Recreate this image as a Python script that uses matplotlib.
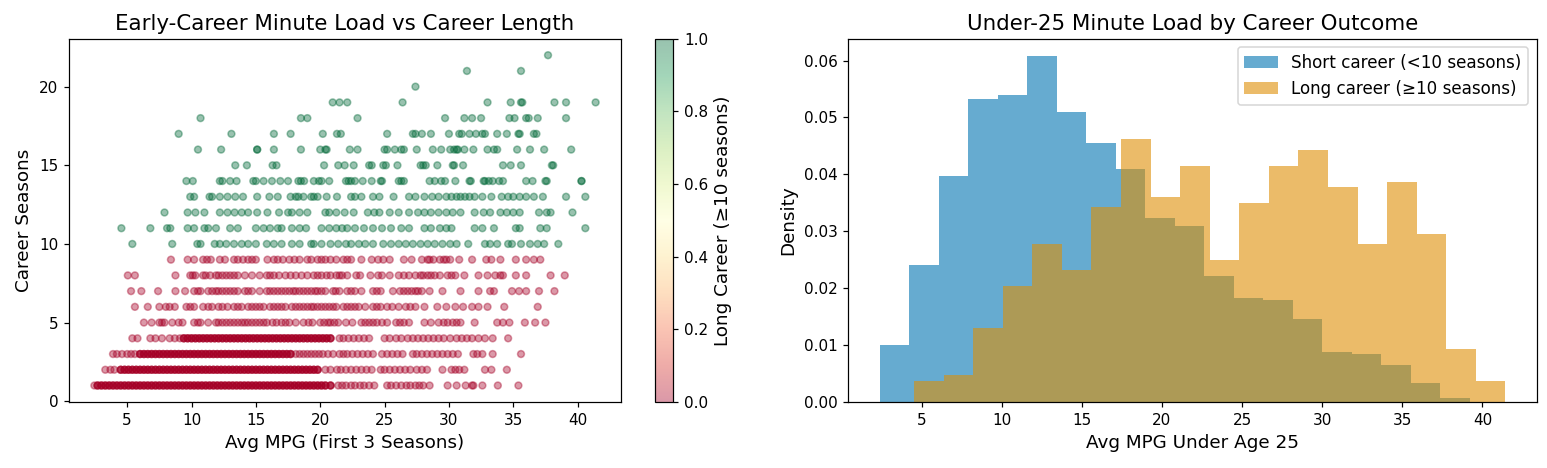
import numpy as np
import matplotlib
matplotlib.use("Agg")
import matplotlib.pyplot as plt

# ---- scatter data: avg MPG (first 3 seasons), grouped by career seasons ----
# rows 1-4 are packed; "core" spots hold several overlapping players
s1_core = [2.7, 3.0, 3.3, 3.6, 3.9, 4.2, 4.5, 4.8, 5.1, 5.4, 5.7, 6.0, 6.3, 6.6, 6.9, 7.2, 7.5, 7.8, 8.1, 8.4,
           8.7, 9.0, 9.3, 9.6, 9.9, 10.2, 10.5, 10.8, 11.1, 11.4, 11.7, 12.0, 12.3, 12.6, 12.9, 13.2, 13.5, 13.8,
           14.1, 14.4, 14.7, 15.0, 15.3, 15.6, 15.9, 16.2, 16.5, 16.8, 17.1, 17.4, 17.7, 18.0, 18.3, 18.6, 18.9,
           19.2, 19.5, 19.8, 20.1, 20.4, 20.8]
s1_tail = [2.45, 21.4, 21.7, 22.0, 22.4, 22.7, 23.1, 23.4, 23.8, 24.2, 25.2, 25.5, 25.9, 26.3, 26.7, 27.0, 27.4,
           27.7, 28.0, 28.5, 29.9, 30.6, 31.3, 31.8, 31.9, 32.6, 33.8, 35.4]
s2_core = [4.5, 4.8, 5.1, 5.4, 5.7, 6.0, 6.3, 6.6, 6.9, 7.2, 7.5, 7.8, 8.1, 8.4, 8.7, 9.0, 9.3, 9.6, 9.9, 10.2,
           10.5, 10.8, 11.1, 11.4, 11.7, 12.0, 12.3, 12.6, 12.9, 13.2, 13.5, 13.8, 14.1, 14.4, 14.7, 15.0, 15.3,
           15.6, 15.9, 16.2, 16.5, 16.8, 17.1, 17.4, 17.7, 18.0, 18.3, 18.6, 18.9, 19.2, 19.5, 19.8]
s2_tail = [3.3, 3.7, 4.0, 20.4, 20.8, 21.3, 21.6, 22.0, 22.4, 22.8, 23.2, 23.6, 24.0, 24.7, 25.0, 25.4, 25.8,
           26.2, 26.6, 27.0, 27.5, 27.9, 28.3, 29.5, 30.2, 30.5, 30.8, 31.2, 32.8, 33.3, 34.5]
s3_core = [6.0, 6.3, 6.6, 6.9, 7.2, 7.5, 7.8, 8.1, 8.4, 8.7, 9.0, 9.3, 9.6, 9.9, 10.2, 10.5, 10.8, 11.1, 11.4,
           11.7, 12.0, 12.3, 12.6, 12.9, 13.2, 13.5, 13.8, 14.1, 14.4, 14.7, 15.0, 15.3, 15.6, 15.9, 16.2, 16.5,
           16.8, 17.1, 17.4, 17.7]
s3_tail = [3.9, 4.2, 4.6, 5.0, 5.3, 5.6, 18.1, 18.4, 18.7, 19.0, 19.3, 19.6, 19.9, 20.2, 20.6, 21.0, 21.5, 21.8,
           22.1, 22.5, 22.9, 23.3, 23.7, 24.1, 24.8, 25.2, 25.6, 26.0, 26.4, 27.2, 27.5, 27.9, 28.3, 28.7, 29.1,
           29.5, 29.9, 30.3, 30.7, 31.9, 32.2, 32.6, 33.4, 35.6]
s4_core = [9.4, 9.7, 10.0, 10.3, 10.6, 10.9, 11.2, 11.5, 11.8, 12.1, 12.4, 12.7, 13.0, 13.3, 13.6, 13.9, 14.2,
           14.5, 14.8, 15.1, 15.4, 15.7, 16.0, 16.3, 16.6, 16.9, 17.2, 17.5, 17.8, 18.1, 18.4, 18.7, 19.0, 19.3,
           19.6, 19.9, 20.2, 20.5, 20.8]
s4_tail = [5.4, 5.8, 6.8, 7.2, 7.7, 8.3, 8.7, 9.1, 21.5, 21.8, 22.2, 22.6, 23.0, 23.4, 23.8, 25.0, 25.4, 25.9,
           26.3, 26.8, 27.2, 27.6, 28.0, 28.4, 28.8, 29.2, 29.6, 30.1, 30.6, 31.0, 31.4, 31.8, 32.3, 32.8, 33.4, 34.6]
core_overlap = 3

s5 = [6.3, 6.9, 7.5, 7.9, 8.5, 9.3, 10.2, 10.7, 11.3, 11.9, 12.4, 13.0, 13.6, 14.15, 14.7, 15.3, 15.85, 16.6,
      17.0, 17.6, 18.1, 18.7, 19.4, 20.3, 20.8, 21.4, 22.0, 22.5, 23.2, 23.8, 24.4, 24.8, 25.2, 25.9, 26.5, 26.9,
      28.1, 28.6, 29.2, 29.6, 30.3, 30.9, 32.0, 33.75, 34.2, 34.7, 35.9, 36.7, 37.5,
      7.7, 9.0, 10.5, 12.1, 12.7, 13.3, 13.9, 14.4, 15.0, 15.6, 16.3, 17.3, 19.1, 20.0, 20.6, 21.1, 23.5, 24.1,
      26.2, 29.9, 30.6]
s6 = [5.6, 6.6, 7.5, 8.0, 8.7, 9.6, 10.2, 10.9, 11.6, 12.4, 13.3, 13.9, 14.4, 15.0, 15.6, 16.1, 16.7, 17.3, 17.8,
      18.4, 19.0, 19.5, 20.1, 20.7, 21.25, 21.8, 22.4, 23.0, 23.5, 24.1, 24.7, 25.2, 25.6, 26.65, 27.4, 28.1,
      29.1, 29.8, 30.5, 31.1, 31.8, 32.3, 33.0, 34.3, 36.9,
      8.3, 9.9, 11.3, 12.1, 12.8, 13.6, 14.7, 15.3, 16.4, 17.0, 18.1, 18.7, 19.3, 19.8, 20.4, 21.0, 22.1, 22.7,
      24.4, 26.1, 27.0]
s7 = [5.3, 6.1, 7.4, 8.75, 9.5, 10.2, 10.7, 11.3, 11.9, 12.4, 13.0, 13.6, 14.15, 14.7, 15.3, 15.85, 16.4, 17.0,
      17.6, 18.1, 18.7, 19.3, 19.8, 20.4, 21.0, 21.5, 22.1, 22.7, 23.2, 24.1, 24.7, 25.65, 26.2, 26.8, 27.4,
      27.9, 28.5, 29.5, 30.9, 32.3, 33.2, 33.5, 34.9, 35.45, 36.0, 37.0, 38.2,
      10.5, 11.6, 12.1, 12.7, 13.3, 14.4, 16.1, 16.7, 17.3, 17.9, 18.4, 19.0, 19.6, 20.1, 21.2, 22.4, 24.4,
      26.5, 27.1, 27.6]
s8 = [5.05, 5.6, 8.75, 9.9, 10.3, 10.9, 11.45, 11.9, 12.4, 13.0, 13.6, 14.15, 14.7, 15.3, 15.85, 16.4, 17.3,
      17.7, 18.1, 18.55, 19.0, 19.5, 20.1, 20.5, 21.25, 21.7, 22.1, 22.8, 23.1, 23.9, 24.8, 25.4, 26.1, 26.5,
      26.9, 27.4, 27.8, 28.35, 28.9, 29.3, 29.9, 30.5, 31.2, 32.3, 33.0, 33.6, 34.0, 34.2, 35.2, 36.0, 37.9, 39.0,
      10.1, 11.1, 12.1, 12.7, 13.3, 16.1, 16.8, 19.8, 20.8, 21.5, 24.5, 28.0, 28.6, 30.2]
s9 = [8.4, 9.7, 10.2, 10.9, 11.5, 12.2, 12.6, 13.6, 14.0, 14.4, 15.0, 15.9, 16.7, 17.1, 17.6, 18.0, 18.4, 19.0,
      19.8, 20.4, 20.8, 21.25, 21.8, 22.4, 23.2, 24.0, 24.9, 25.4, 26.5, 27.1, 27.9, 28.35, 28.8, 29.3, 29.8,
      30.1, 30.8, 31.8, 32.9, 33.3, 34.0, 35.2, 36.0, 36.6, 37.1,
      11.2, 13.3, 14.7, 16.4, 19.3, 20.1, 22.1, 24.5, 28.5, 29.6]
s10 = [5.4, 8.5, 10.45, 10.7, 11.8, 12.2, 12.7, 13.3, 13.9, 14.4, 15.0, 15.85, 16.4, 17.0, 17.8, 18.4, 19.3,
       19.5, 20.1, 20.8, 21.4, 22.0, 22.4, 23.0, 23.5, 24.1, 24.9, 25.5, 26.1, 26.65, 27.2, 27.8, 28.35, 28.9,
       29.5, 30.1, 30.6, 31.5, 32.8, 33.2, 33.75, 34.6, 34.9, 35.6, 36.3, 36.9, 37.4, 38.5]
s11 = [4.55, 6.8, 8.1, 8.35, 9.7, 10.2, 11.0, 11.3, 11.9, 13.0, 13.6, 15.0, 15.6, 16.1, 16.7, 17.0, 17.8, 18.4,
       18.9, 20.1, 20.7, 21.25, 21.7, 22.1, 22.7, 23.4, 24.1, 24.8, 25.5, 26.3, 26.9, 28.1, 28.6, 29.3, 29.8,
       30.2, 32.0, 32.6, 33.5, 35.2, 35.5, 37.1, 37.6, 40.6]
s12 = [7.9, 9.7, 10.3, 11.0, 12.2, 12.8, 13.35, 13.9, 14.4, 15.1, 15.9, 16.8, 17.5, 17.8, 18.4, 19.0, 20.4, 20.7,
       21.25, 21.9, 22.6, 23.7, 24.2, 24.6, 25.4, 26.1, 26.9, 27.6, 28.1, 28.6, 29.2, 29.8, 30.3, 30.9, 32.0,
       32.7, 33.2, 34.0, 34.5, 35.0, 35.5, 37.0, 37.6, 37.9, 39.6]
s13 = [9.9, 10.2, 11.4, 11.6, 12.2, 12.8, 13.4, 14.0, 15.1, 16.05, 16.7, 17.7, 18.1, 18.3, 18.7, 19.3, 19.5, 19.8,
       20.5, 21.3, 22.4, 22.7, 23.2, 24.1, 24.6, 25.7, 26.9, 27.4, 28.1, 28.7, 29.2, 29.8, 30.2, 30.6, 30.9,
       31.25, 31.6, 32.0, 32.6, 33.3, 34.1, 34.6, 35.0, 35.5, 36.0, 36.6, 37.3, 39.1, 40.6]
s14 = [9.6, 10.1, 12.2, 12.4, 13.0, 13.5, 14.8, 15.0, 15.6, 16.25, 16.9, 17.5, 18.3, 18.5, 18.75, 19.5, 19.9,
       20.1, 20.7, 22.0, 22.2, 22.4, 22.7, 23.3, 24.0, 24.7, 24.8, 26.1, 26.3, 26.5, 28.5, 28.9, 29.4, 29.7,
       30.5, 31.6, 31.7, 32.7, 32.8, 33.1, 33.4, 33.9, 34.2, 36.0, 36.5, 37.5, 37.6, 40.3, 40.3]
s15 = [13.4, 14.3, 16.3, 16.6, 20.3, 21.4, 21.9, 22.6, 23.8, 24.0, 24.9, 25.1, 26.0, 27.8, 28.0, 28.2, 29.1,
       30.3, 30.4, 31.1, 34.2, 34.8, 35.6, 38.0, 38.1]
s16 = [10.5, 12.3, 15.1, 15.1, 16.4, 18.5, 20.0, 20.4, 20.5, 22.3, 22.9, 25.0, 25.2, 25.8, 26.3, 26.5, 27.5,
       28.75, 29.4, 30.1, 30.4, 30.6, 30.7, 31.2, 31.9, 33.0, 33.5, 33.75, 35.3, 36.3, 37.4, 39.5]
s17 = [9.0, 13.1, 16.4, 17.7, 20.2, 21.3, 21.6, 25.2, 27.2, 27.4, 27.9, 28.6, 30.0, 30.8, 31.0, 31.6, 32.1, 32.6,
       32.8, 33.75, 34.5, 35.4, 35.5, 36.6, 36.8]
s18 = [10.7, 18.5, 19.0, 22.9, 29.7, 31.2, 31.8, 32.5, 34.7, 35.1, 36.0, 36.2, 36.9, 39.1]
s19 = [20.97, 21.5, 22.1, 26.4, 33.0, 34.8, 35.6, 35.7, 38.2, 39.1, 41.4]
s20 = [27.4]
s21 = [31.4, 35.6]
s22 = [37.7]

# ---- histogram data: density per bin, 20 bins each ----
short_range = (2.38, 39.2)
short_density = [0.0100, 0.0240, 0.0397, 0.0532, 0.0539, 0.0608, 0.0510, 0.0455, 0.0410, 0.0324,
                 0.0310, 0.0221, 0.0182, 0.0179, 0.0145, 0.0088, 0.0084, 0.0065, 0.0034, 0.0007]
long_range = (4.53, 41.43)
long_density = [0.0037, 0.0047, 0.0130, 0.0204, 0.0277, 0.0232, 0.0342, 0.0462, 0.0361, 0.0415,
                0.0249, 0.0350, 0.0415, 0.0443, 0.0378, 0.0277, 0.0387, 0.0296, 0.0093, 0.0037]

# assemble scatter points
rows = {1: s1_tail + s1_core * core_overlap, 2: s2_tail + s2_core * core_overlap,
        3: s3_tail + s3_core * core_overlap, 4: s4_tail + s4_core * core_overlap,
        5: s5, 6: s6, 7: s7, 8: s8, 9: s9, 10: s10, 11: s11, 12: s12, 13: s13, 14: s14,
        15: s15, 16: s16, 17: s17, 18: s18, 19: s19, 20: s20, 21: s21, 22: s22}
mpg = np.concatenate([np.array(v, float) for v in rows.values()])
seasons = np.concatenate([np.full(len(v), k) for k, v in rows.items()])
is_long = (seasons >= 10).astype(float)

plt.rcParams.update({"axes.titlesize": 14, "axes.labelsize": 12, "legend.fontsize": 11,
                     "xtick.labelsize": 10, "ytick.labelsize": 10})

W, H, DPI = 1547, 468, 110
fig = plt.figure(figsize=(W / DPI, H / DPI), dpi=DPI)
bot, top = 402, 38.7
ax1 = fig.add_axes([69.3 / W, (H - bot) / H, (620.7 - 69.3) / W, (bot - top) / H])
cax = fig.add_axes([655.3 / W, (H - bot) / H, 18 / W, (bot - top) / H])
ax2 = fig.add_axes([848.3 / W, (H - bot) / H, (1536.7 - 848.3) / W, (bot - top) / H])

sc = ax1.scatter(mpg, seasons, c=is_long, cmap="RdYlGn", alpha=0.4, s=20)
ax1.set_xlabel("Avg MPG (First 3 Seasons)")
ax1.set_ylabel("Career Seasons")
ax1.set_title("Early-Career Minute Load vs Career Length")
ax1.set_yticks([0, 5, 10, 15, 20])
cb = fig.colorbar(sc, cax=cax)
cb.set_label("Long Career (≥10 seasons)")

e_short = np.linspace(short_range[0], short_range[1], len(short_density) + 1)
e_long = np.linspace(long_range[0], long_range[1], len(long_density) + 1)
ax2.bar(e_short[:-1], short_density, width=np.diff(e_short), align="edge",
        color="#0173B2", alpha=0.6, linewidth=0, label="Short career (<10 seasons)")
ax2.bar(e_long[:-1], long_density, width=np.diff(e_long), align="edge",
        color="#DE8F05", alpha=0.6, linewidth=0, label="Long career (≥10 seasons)")
ax2.set_xlabel("Avg MPG Under Age 25")
ax2.set_ylabel("Density")
ax2.set_title("Under-25 Minute Load by Career Outcome")
ax2.legend(loc="upper right")

fig.savefig("out.png", dpi=DPI)
